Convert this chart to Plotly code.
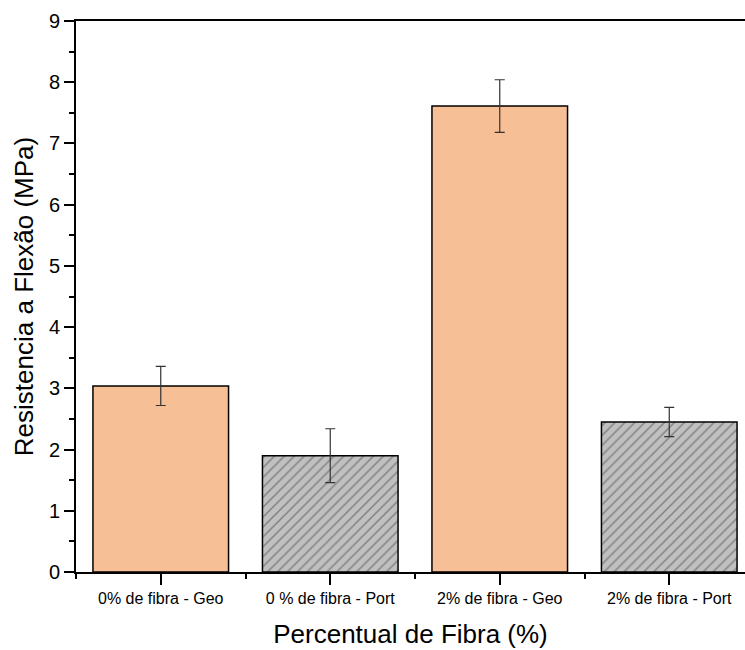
import plotly.graph_objects as go

categories = ["0% de fibra - Geo", "0 % de fibra - Port", "2% de fibra - Geo", "2% de fibra - Port"]
values = [3.04, 1.90, 7.61, 2.45]
errors = [0.32, 0.44, 0.43, 0.24]
hatched = [False, True, False, True]

x_pos = list(range(len(categories)))

FONT = "Arial, Liberation Sans, sans-serif"
ORANGE = "#F7BF95"
GRAY = "#C0C0C0"

fig = go.Figure()
fig.add_trace(go.Bar(
    x=x_pos,
    y=values,
    width=0.8,
    marker=dict(
        color=[GRAY if h else ORANGE for h in hatched],
        line=dict(color="black", width=1.5),
        pattern=dict(
            shape=["/" if h else "" for h in hatched],
            fgcolor="black",
            bgcolor=[GRAY if h else ORANGE for h in hatched],
            size=7,
            solidity=0.22,
            fillmode="overlay",
        ),
    ),
    error_y=dict(type="data", array=errors, visible=True, color="#333333", thickness=1.2, width=5),
    showlegend=False,
))

fig.update_layout(
    width=745, height=650,
    margin=dict(l=76, r=0, t=21, b=78),
    paper_bgcolor="white", plot_bgcolor="white",
    font=dict(family=FONT, color="black"),
    xaxis=dict(
        range=[-0.5, -0.5 + 669 / 169.5],
        tickvals=x_pos, ticktext=categories,
        tickfont=dict(size=16),
        ticks="outside", ticklen=11, tickwidth=2, tickcolor="black",
        minor=dict(tick0=-0.5, dtick=1, ticks="outside", ticklen=5, tickwidth=2, tickcolor="black"),
        showline=True, linewidth=2, linecolor="black", mirror=True,
        showgrid=False, zeroline=False,
        title=dict(text="Percentual de Fibra (%)", font=dict(size=26), standoff=19),
    ),
    yaxis=dict(
        range=[0, 9], dtick=1,
        tickfont=dict(size=20),
        ticks="outside", ticklen=10, tickwidth=2, tickcolor="black",
        minor=dict(dtick=0.5, ticks="outside", ticklen=5, tickwidth=2, tickcolor="black"),
        showline=True, linewidth=2, linecolor="black",
        showgrid=False, zeroline=False,
        title=dict(text="Resistencia a Flexão (MPa)", font=dict(size=26), standoff=8),
    ),
)

fig.write_html("out.html")
